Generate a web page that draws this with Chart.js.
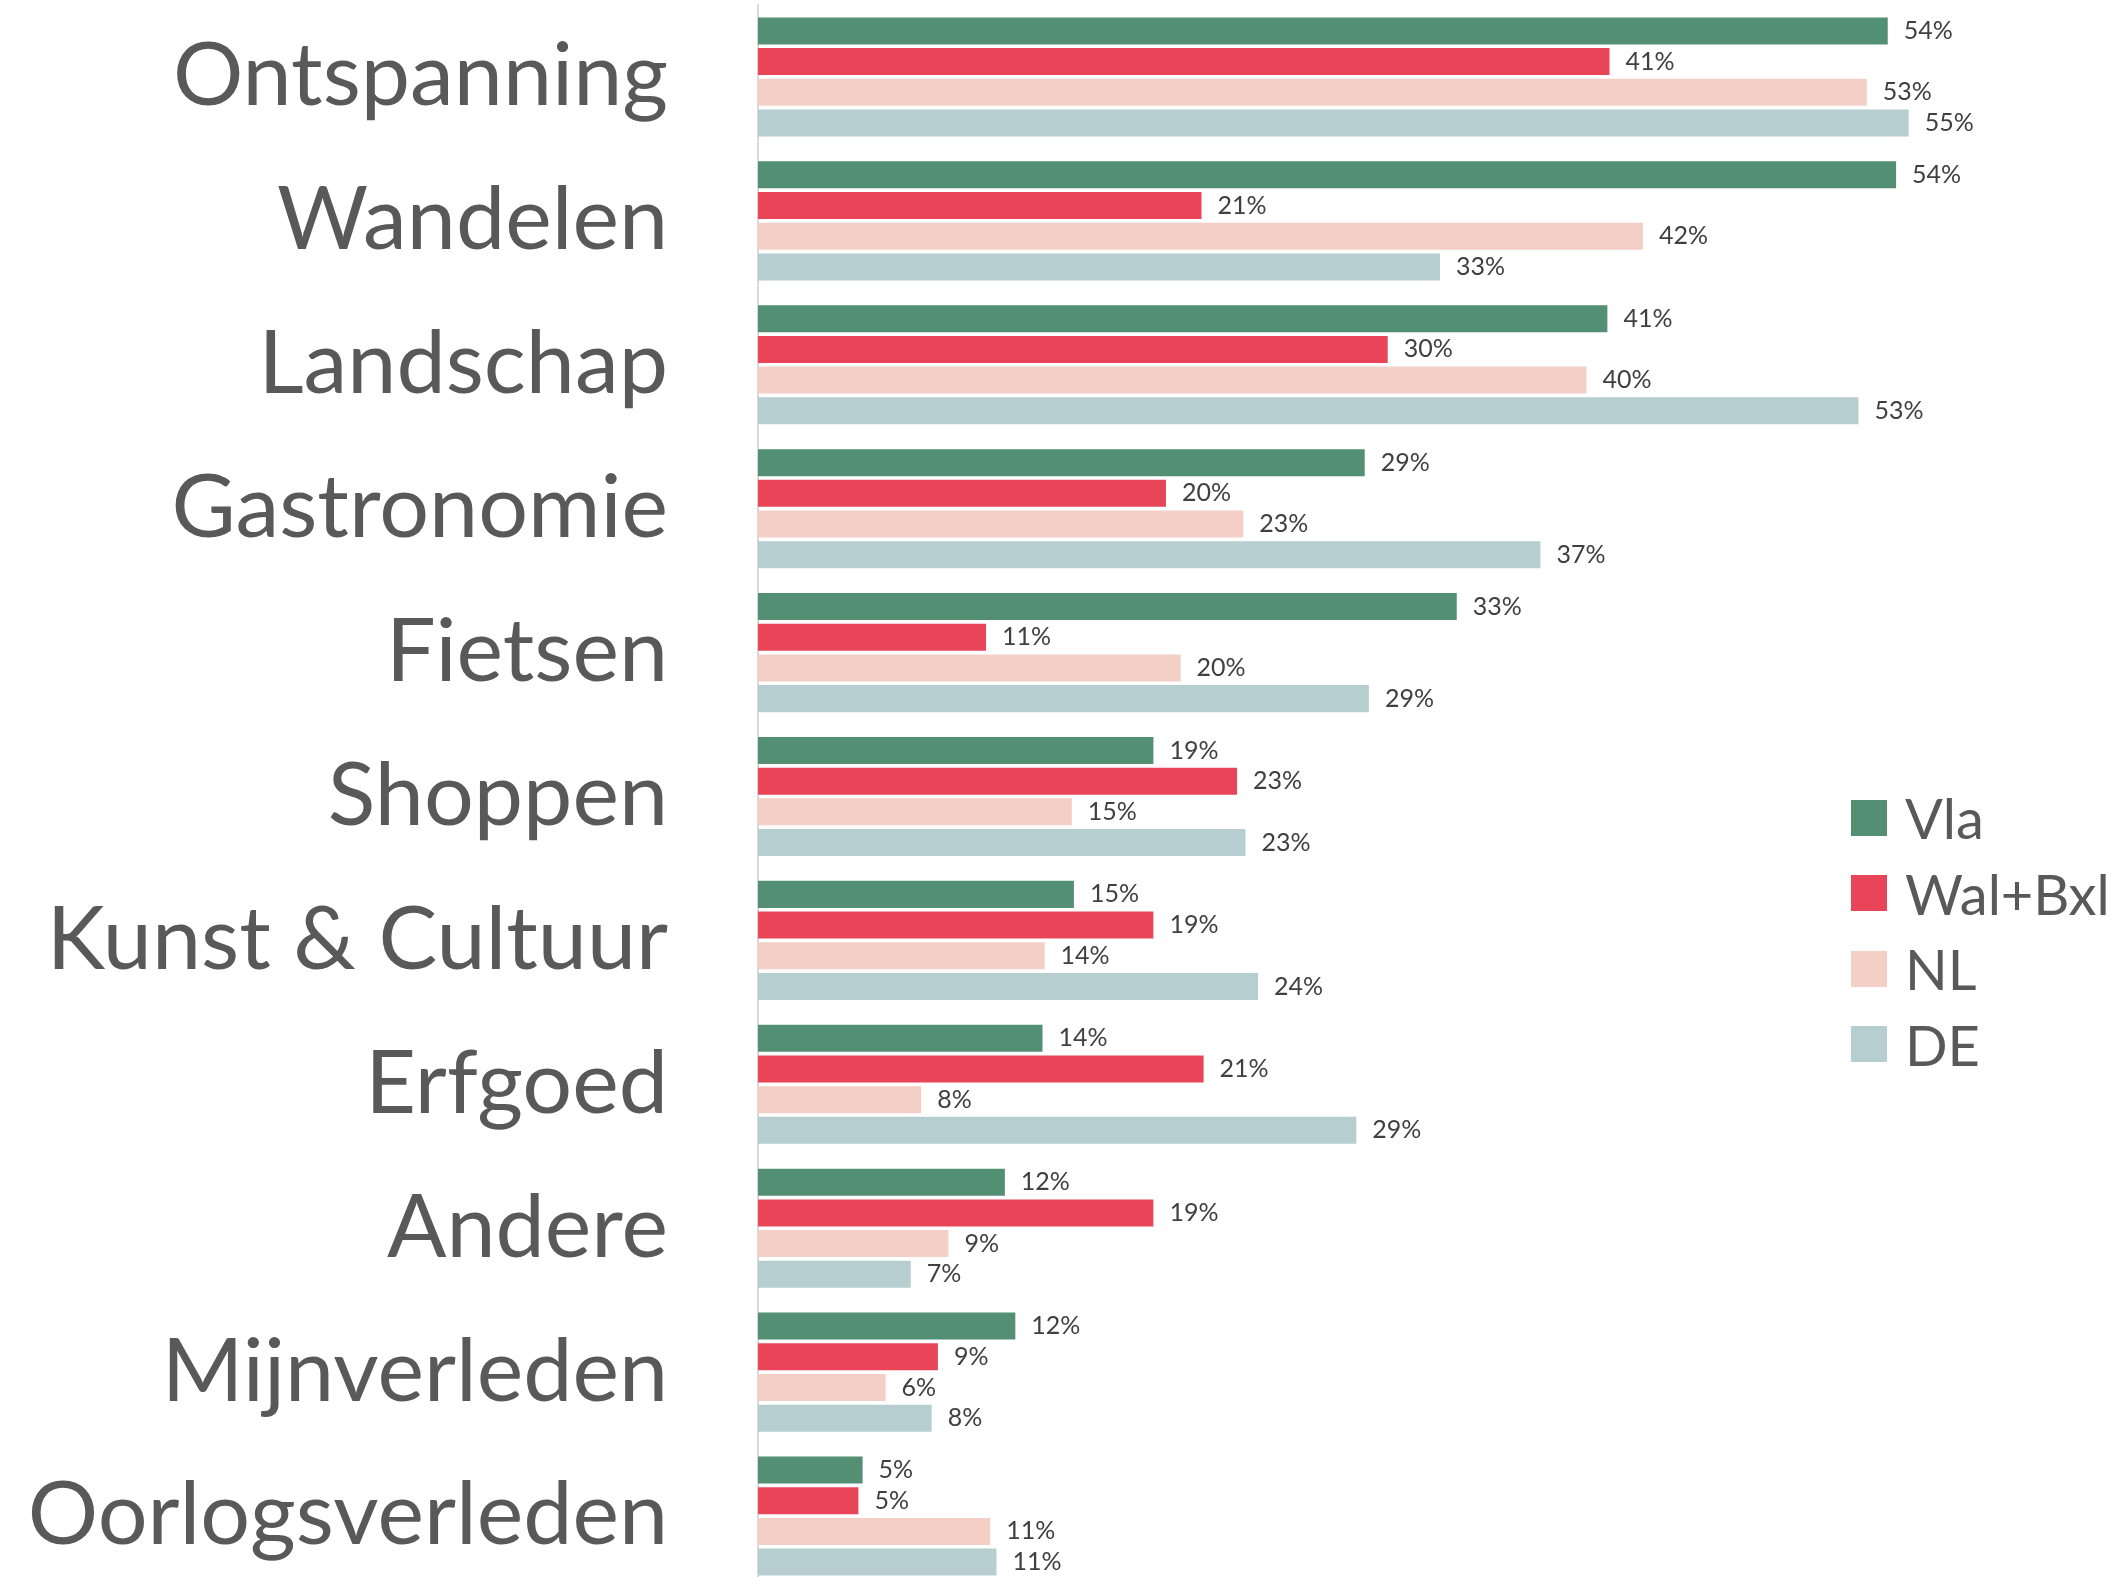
<!DOCTYPE html>
<html>
<head>
<meta charset="utf-8">
<script src="https://cdn.jsdelivr.net/npm/chart.js@4.4.1/dist/chart.umd.min.js"></script>
<style>
  body { margin: 0; background: #fff; overflow: hidden; }
  #wrap { position: relative; width: 2121px; height: 1577px; overflow: hidden; }
  #box { position: absolute; left: 0; top: 0; width: 2121px; height: 1590px; }
  #legend { position: absolute; left: 1851px; top: 780px; font-family: Lato, sans-serif; font-size: 56px; color: #595959; }
  #legend div { display: flex; align-items: center; height: 75.5px; white-space: nowrap; }
  #legend span.sw { display: inline-block; width: 36px; height: 36px; margin-right: 18px; }
</style>
</head>
<body>
<div id="wrap">
  <div id="box"><canvas id="barChart"></canvas></div>
  <div id="legend"></div>
</div>
<script>
// categories and series (percent)
const categories = ['Ontspanning', 'Wandelen', 'Landschap', 'Gastronomie', 'Fietsen', 'Shoppen',
    'Kunst & Cultuur', 'Erfgoed', 'Andere', 'Mijnverleden', 'Oorlogsverleden'];
const seriesNames = ['Vla', 'Wal+Bxl', 'NL', 'DE'];
const seriesColors = ['#528f73', '#e84559', '#f4cfc5', '#b7ced0'];

const vla    = [54.0, 54.4, 40.6, 29.0, 33.4, 18.9, 15.1, 13.6, 11.8, 12.3, 5.0];
const walBxl = [40.7, 21.2, 30.1, 19.5, 10.9, 22.9, 18.9, 21.3, 18.9, 8.6, 4.8];
const nl     = [53.0, 42.3, 39.6, 23.2, 20.2, 15.0, 13.7, 7.8, 9.1, 6.1, 11.1];
const de     = [55.0, 32.6, 52.6, 37.4, 29.2, 23.3, 23.9, 28.6, 7.3, 8.3, 11.4];
const seriesValues = [vla, walBxl, nl, de];

// value labels to the right of each bar
const valueLabels = {
    id: 'valueLabels',
    afterDatasetsDraw(chart) {
        const ctx = chart.ctx;
        ctx.save();
        ctx.font = '25px Lato';
        ctx.fillStyle = '#404040';
        ctx.textBaseline = 'middle';
        chart.data.datasets.forEach((ds, i) => {
            chart.getDatasetMeta(i).data.forEach((bar, j) => {
                ctx.fillText(Math.round(ds.data[j]) + '%', bar.x + 16, bar.y);
            });
        });
        ctx.restore();
    }
};

new Chart(document.getElementById('barChart'), {
    type: 'bar',
    data: {
        labels: categories,
        datasets: seriesNames.map((name, i) => ({
            label: name,
            data: seriesValues[i],
            backgroundColor: seriesColors[i],
            borderWidth: 0,
            categoryPercentage: 0.853,
            barPercentage: 0.88
        }))
    },
    options: {
        indexAxis: 'y',
        responsive: true,
        maintainAspectRatio: false,
        animation: false,
        layout: { padding: { top: 5, bottom: 2, left: 0, right: 0 } },
        scales: {
            x: { display: false, min: 0, max: 65.15 },
            y: {
                grid: { display: false, drawTicks: false },
                border: { display: true, color: '#d9d9d9', width: 2 },
                ticks: { color: '#595959', font: { family: 'Lato', size: 88 }, padding: 90 },
                afterFit(scale) {
                    scale.width = 758;
                    scale.paddingTop = 0;
                    scale.paddingBottom = 0;
                }
            }
        },
        plugins: {
            legend: { display: false },
            tooltip: { enabled: false }
        }
    },
    plugins: [valueLabels]
});

// legend
const legendEl = document.getElementById('legend');
seriesNames.forEach((name, i) => {
    const row = document.createElement('div');
    row.innerHTML = '<span class="sw" style="background:' + seriesColors[i] + '"></span>' + name;
    legendEl.appendChild(row);
});
</script>
</body>
</html>
